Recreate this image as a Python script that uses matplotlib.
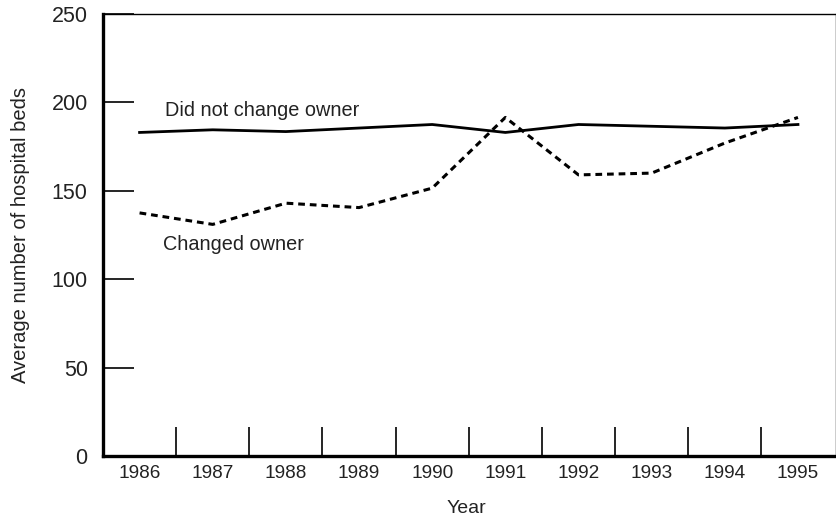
import matplotlib
matplotlib.use('Agg')
import matplotlib.pyplot as plt
from matplotlib.ticker import FixedLocator

plt.rcParams['font.family'] = ['Liberation Sans', 'DejaVu Sans']

years = [1986, 1987, 1988, 1989, 1990, 1991, 1992, 1993, 1994, 1995]
did_not_change = [183, 184.5, 183.5, 185.5, 187.5, 183, 187.5, 186.5, 185.5, 187.5]
changed = [137.5, 131, 143, 140.5, 151.5, 191.5, 159, 160, 177, 191.5]

fig = plt.figure(figsize=(8.37, 5.18), dpi=100)
ax = fig.add_axes([103/837, 1 - 456/518, 733/837, 442/518])

ax.plot(years, did_not_change, '-', color='black', linewidth=2.0, solid_joinstyle='round')
ax.plot(years, changed, color='black', linewidth=2.2, linestyle=(0, (2.2, 1.6)))

ax.text(1986.35, 192.3, 'Did not change owner', fontsize=14.3, color='#222222', va='baseline')
ax.text(1986.32, 116.5, 'Changed owner', fontsize=14.3, color='#222222', va='baseline')

ax.set_xlim(1985.5, 1995.52)
ax.set_ylim(0, 250)

# year labels centered, tick marks between years
ax.xaxis.set_major_locator(FixedLocator(years))
ax.xaxis.set_minor_locator(FixedLocator([y + 0.5 for y in years[:-1]]))
ax.tick_params(axis='x', which='major', length=0, pad=6.5, labelsize=13.7, labelcolor='#222222')
ax.tick_params(axis='x', which='minor', direction='in', length=21, width=1.2, color='black')

ax.set_yticks([0, 50, 100, 150, 200, 250])
ax.tick_params(axis='y', which='major', direction='in', length=22, width=1.2, pad=11,
               labelsize=15.5, labelcolor='#222222')

for side in ['left', 'bottom']:
    ax.spines[side].set_linewidth(2.4)
for side in ['top', 'right']:
    ax.spines[side].set_linewidth(1.0)

ax.set_xlabel('Year', fontsize=14, color='#222222')
ax.xaxis.set_label_coords((466.5 - 103) / 733, -0.1)
ax.set_ylabel('Average number of hospital beds', fontsize=14.5, color='#222222')
ax.yaxis.set_label_coords(-0.0996, 0.501)

fig.savefig('out.png', dpi=100)
